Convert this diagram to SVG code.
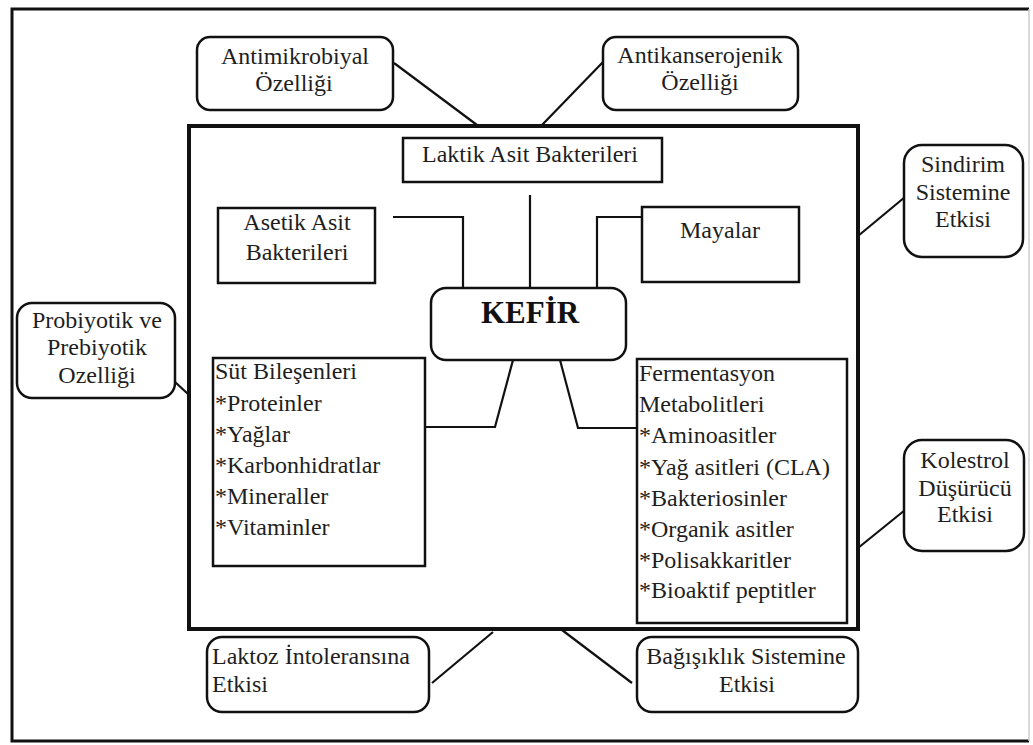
<svg xmlns="http://www.w3.org/2000/svg" width="1033" height="745" viewBox="0 0 1033 745">
<style>
text{font-family:"Liberation Serif","Times New Roman",serif;font-size:24px;fill:#1e1e1e}
.c{text-anchor:middle}
.rb{fill:#fff;stroke:#111;stroke-width:2.5}
.bx{fill:#fff;stroke:#111;stroke-width:2.5}
.ln{fill:none;stroke:#111;stroke-width:2.2}
</style>
<rect width="1033" height="745" fill="#fff"/>
<g id="frame">
<path d="M1029 9 H12 V741 H1029" fill="none" stroke="#111" stroke-width="3"/>
<line x1="1029" y1="9" x2="1029" y2="741" stroke="#ccc" stroke-width="1.5"/>
</g>
<g id="connectors">
<line class="ln" x1="394" y1="63" x2="477" y2="125"/>
<line class="ln" x1="603" y1="62" x2="542" y2="125"/>
<line class="ln" x1="858" y1="236" x2="905" y2="197"/>
<line class="ln" x1="858" y1="548" x2="905" y2="510"/>
<line class="ln" x1="175" y1="382" x2="188" y2="394"/>
<line class="ln" x1="493" y1="632" x2="432" y2="683"/>
<line class="ln" x1="562" y1="630" x2="632" y2="683"/>
<polyline class="ln" points="393,217 463,217 463,288"/>
<line class="ln" x1="530" y1="195" x2="530" y2="288"/>
<polyline class="ln" points="642,217 597,217 597,288"/>
<polyline class="ln" points="513,360 495,427 426,427"/>
<polyline class="ln" points="560,360 578,428 637,428"/>
</g>
<g id="inner-box">
<rect x="189" y="126" width="669" height="503" fill="none" stroke="#111" stroke-width="4"/>
</g>
<g id="antimikrobiyal">
<rect class="rb" x="197" y="37" width="196" height="73" rx="13"/>
<text class="c" x="295" y="64">Antimikrobiyal</text>
<text class="c" x="294" y="91">Özelliği</text>
</g>
<g id="antikanserojenik">
<rect class="rb" x="603" y="37" width="195" height="73" rx="13"/>
<text class="c" x="700" y="63">Antikanserojenik</text>
<text class="c" x="700" y="90">Özelliği</text>
</g>
<g id="laktik">
<rect class="bx" x="403" y="138" width="259" height="44"/>
<text class="c" x="530" y="162">Laktik Asit Bakterileri</text>
</g>
<g id="asetik">
<rect class="bx" x="218" y="208" width="157" height="75"/>
<text class="c" x="297" y="230">Asetik Asit</text>
<text class="c" x="297" y="260">Bakterileri</text>
</g>
<g id="mayalar">
<rect class="bx" x="642" y="207" width="157" height="75"/>
<text class="c" x="720" y="238">Mayalar</text>
</g>
<g id="kefir">
<rect class="rb" x="431" y="288" width="195" height="72" rx="15"/>
<text class="c" x="530" y="323" style="font-size:31px;font-weight:bold;fill:#111">KEFİR</text>
</g>
<g id="sindirim">
<rect class="rb" x="904" y="145" width="119" height="112" rx="18"/>
<text class="c" x="963" y="172">Sindirim</text>
<text class="c" x="963" y="200">Sistemine</text>
<text class="c" x="963" y="227">Etkisi</text>
</g>
<g id="probiyotik">
<rect class="rb" x="17" y="303" width="158" height="95" rx="15"/>
<text class="c" x="97" y="328">Probiyotik ve</text>
<text class="c" x="97" y="355">Prebiyotik</text>
<text class="c" x="97" y="383">Ozelliği</text>
</g>
<g id="sut">
<rect class="bx" x="213" y="358" width="212" height="208"/>
<text x="215" y="379">Süt Bileşenleri</text>
<text x="215" y="411">*Proteinler</text>
<text x="215" y="442">*Yağlar</text>
<text x="215" y="473">*Karbonhidratlar</text>
<text x="215" y="504">*Mineraller</text>
<text x="215" y="535">*Vitaminler</text>
</g>
<g id="fermentasyon">
<rect class="bx" x="637" y="359" width="210" height="264"/>
<text x="639" y="381">Fermentasyon</text>
<text x="639" y="412">Metabolitleri</text>
<text x="639" y="443">*Aminoasitler</text>
<text x="639" y="475">*Yağ asitleri (CLA)</text>
<text x="639" y="506">*Bakteriosinler</text>
<text x="639" y="537">*Organik asitler</text>
<text x="639" y="568">*Polisakkaritler</text>
<text x="639" y="598">*Bioaktif peptitler</text>
</g>
<g id="kolestrol">
<rect class="rb" x="904" y="440" width="120" height="111" rx="18"/>
<text class="c" x="965" y="468">Kolestrol</text>
<text class="c" x="965" y="496">Düşürücü</text>
<text class="c" x="965" y="522">Etkisi</text>
</g>
<g id="laktoz">
<rect class="rb" x="207" y="637" width="222" height="75" rx="15"/>
<text x="212" y="664">Laktoz İntoleransına</text>
<text x="212" y="692">Etkisi</text>
</g>
<g id="bagisiklik">
<rect class="rb" x="637" y="637" width="221" height="75" rx="15"/>
<text class="c" x="746" y="664">Bağışıklık Sistemine</text>
<text class="c" x="747" y="692">Etkisi</text>
</g>
</svg>
